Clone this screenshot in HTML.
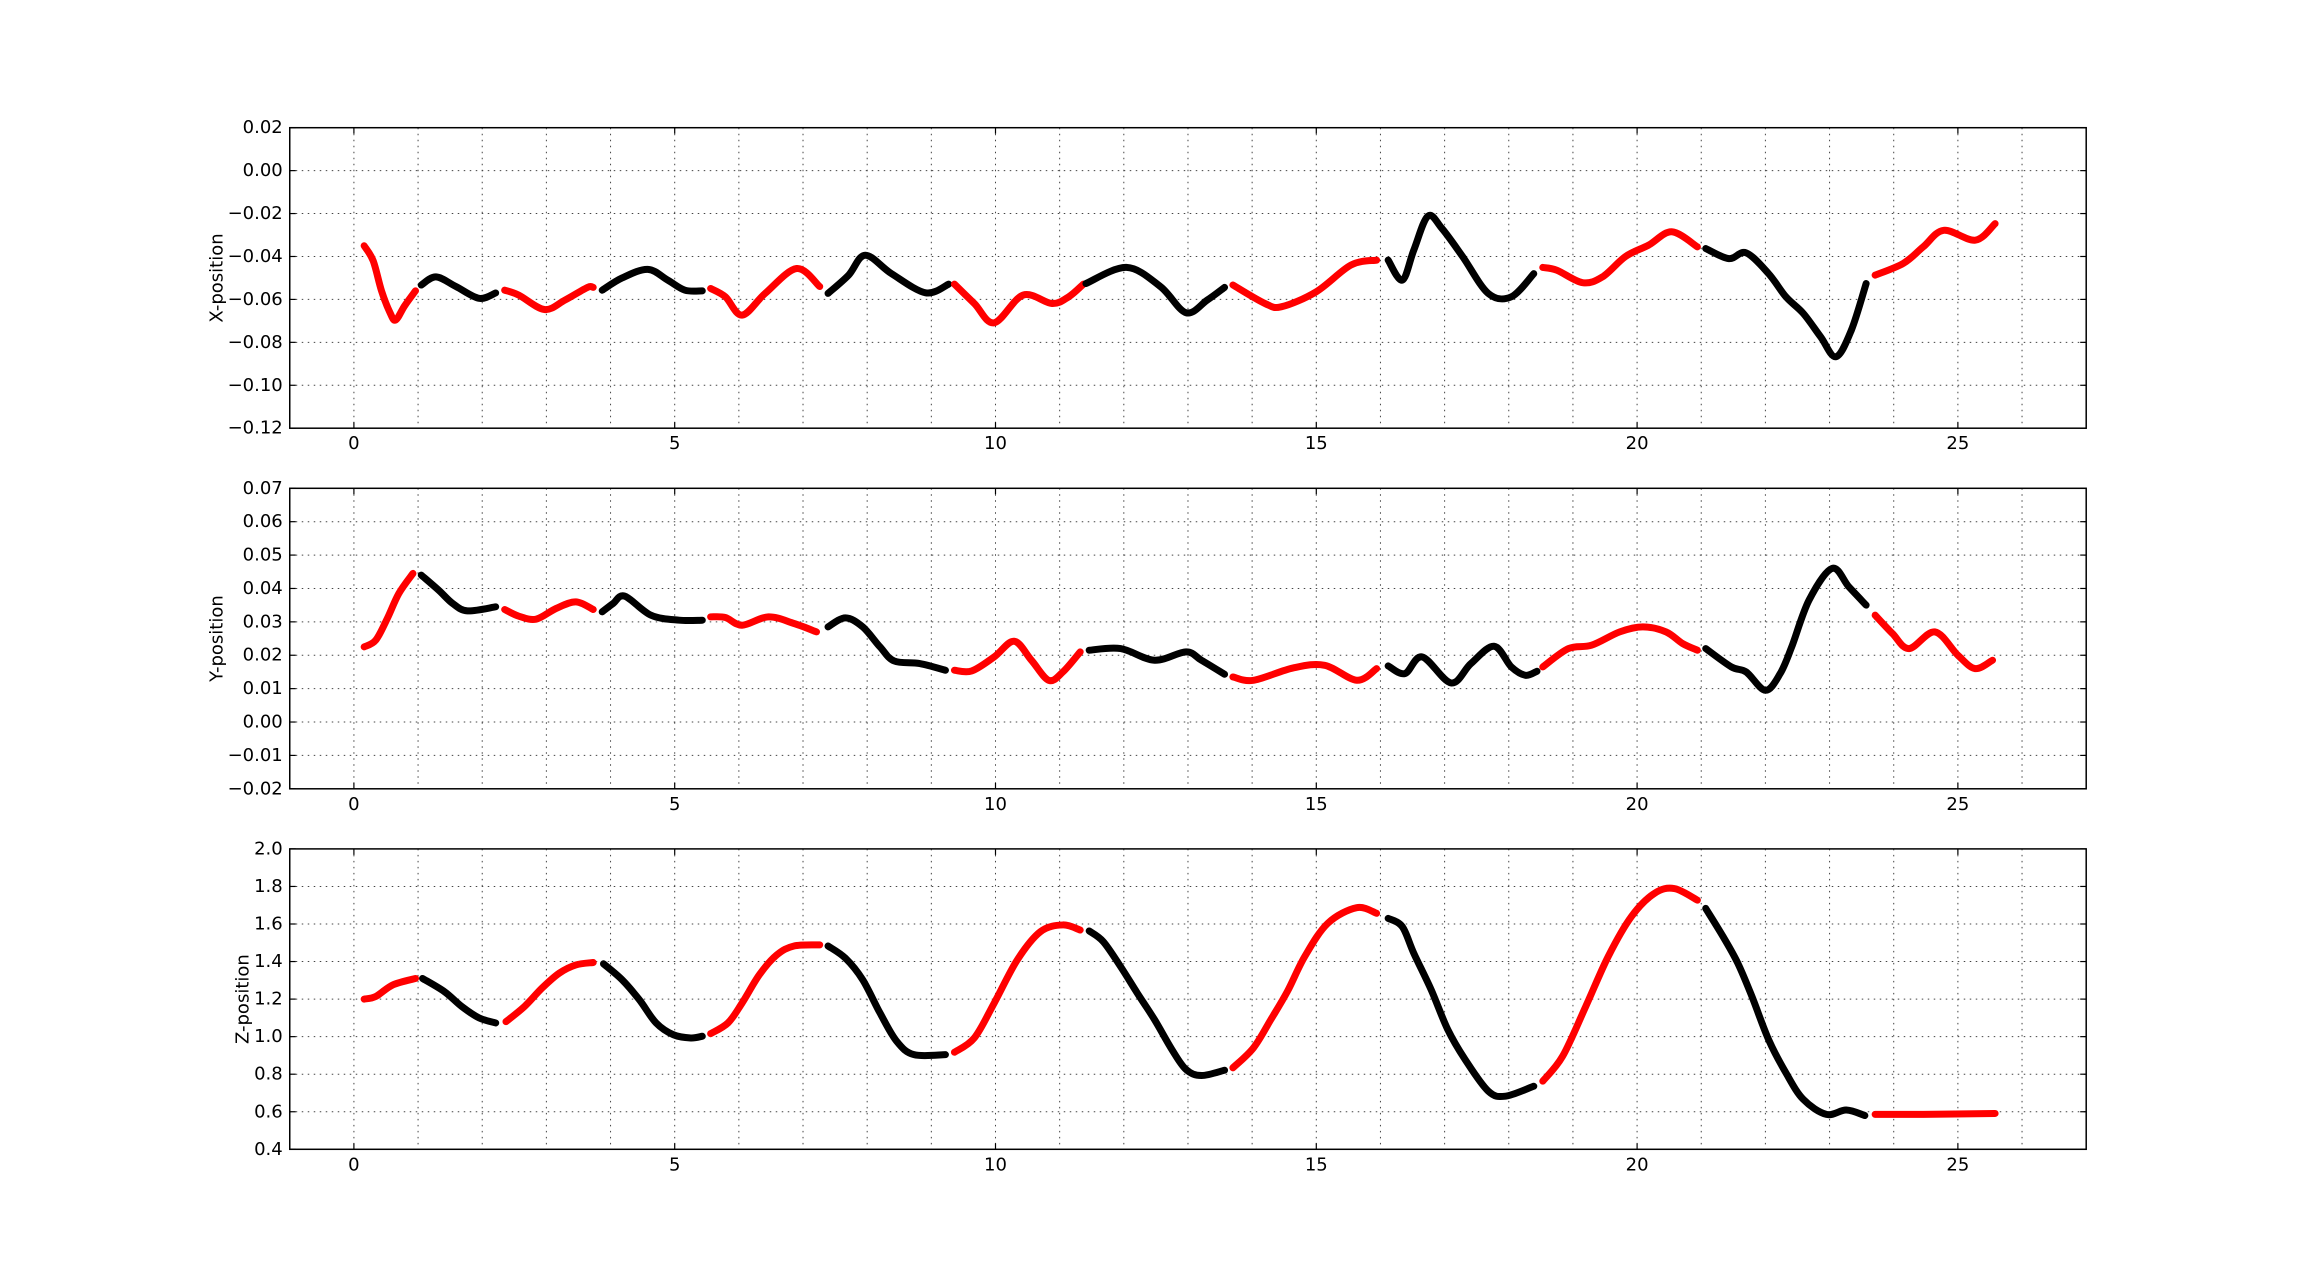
<!DOCTYPE html>
<html><head><meta charset="utf-8"><title>Position plots</title>
<style>
html,body{margin:0;padding:0;background:#fff;}
svg{display:block;font-family:"DejaVu Sans","Liberation Sans",sans-serif;}
</style></head>
<body>
<svg id="fig" width="2318" height="1277" viewBox="0 0 2318 1277" xmlns="http://www.w3.org/2000/svg">
<rect width="2318" height="1277" fill="#fff"/>
</svg>
<script>
// ---- shared x-axis ----
const xTickLabels = [0, 5, 10, 15, 20, 25];
const xGridValues = [-1,0,1,2,3,4,5,6,7,8,9,10,11,12,13,14,15,16,17,18,19,20,21,22,23,24,25,26,27];

// ---- segment times (same for all three panels) ----
const segT_X = [
 [0.16,0.3,0.43,0.56,0.65,0.79,0.96],
 [1.05,1.28,1.59,1.95,2.21],
 [2.35,2.57,2.97,3.29,3.64,3.73],
 [3.87,4.18,4.58,4.89,5.16,5.43],
 [5.56,5.79,6.05,6.41,6.9,7.26],
 [7.39,7.71,7.97,8.38,8.91,9.27],
 [9.36,9.67,9.98,10.43,10.88,11.14,11.37],
 [11.41,12.04,12.57,12.97,13.3,13.57],
 [13.7,14.2,14.46,15.0,15.54,15.94],
 [16.12,16.34,16.52,16.74,16.96,17.28,17.68,18.04,18.39],
 [18.53,18.75,19.15,19.46,19.82,20.18,20.54,20.94],
 [21.07,21.43,21.7,22.05,22.32,22.59,22.86,23.1,23.34,23.57],
 [23.71,24.15,24.46,24.78,25.27,25.58]
];
const segV_X = [
 [-0.035,-0.042,-0.056,-0.066,-0.0696,-0.063,-0.056],
 [-0.0533,-0.0495,-0.054,-0.0595,-0.057],
 [-0.0557,-0.058,-0.0647,-0.0603,-0.0544,-0.0544],
 [-0.0557,-0.050,-0.046,-0.051,-0.0557,-0.056],
 [-0.0549,-0.0588,-0.0673,-0.0572,-0.0456,-0.054],
 [-0.0572,-0.0487,-0.0394,-0.048,-0.0569,-0.0529],
 [-0.0529,-0.0619,-0.0709,-0.058,-0.0619,-0.0588,-0.0529],
 [-0.0526,-0.0451,-0.054,-0.0662,-0.0603,-0.0544],
 [-0.0533,-0.0619,-0.0634,-0.0564,-0.044,-0.0417],
 [-0.0417,-0.051,-0.037,-0.0212,-0.027,-0.040,-0.0572,-0.0588,-0.048],
 [-0.0451,-0.0464,-0.0522,-0.0495,-0.040,-0.0347,-0.0285,-0.0355],
 [-0.0363,-0.041,-0.0383,-0.048,-0.0588,-0.0665,-0.0774,-0.0867,-0.0743,-0.0526],
 [-0.0487,-0.0432,-0.0355,-0.0278,-0.0324,-0.0247]
];

const segT_Y = [
 [0.16,0.34,0.52,0.7,0.92],
 [1.05,1.32,1.54,1.77,2.21],
 [2.35,2.57,2.84,3.15,3.46,3.73],
 [3.87,4.04,4.22,4.63,5.07,5.43],
 [5.56,5.79,6.05,6.46,6.86,7.21],
 [7.39,7.66,7.93,8.2,8.42,8.82,9.22],
 [9.36,9.63,9.98,10.29,10.56,10.83,11.05,11.32],
 [11.46,11.95,12.48,12.97,13.21,13.57],
 [13.7,14.02,14.64,15.13,15.63,15.94],
 [16.12,16.38,16.65,17.1,17.41,17.77,18.04,18.26,18.44],
 [18.53,18.93,19.29,19.73,20.09,20.45,20.71,20.94],
 [21.07,21.47,21.7,22.0,22.23,22.41,22.68,23.04,23.3,23.57],
 [23.71,23.98,24.24,24.64,25.0,25.27,25.54]
];
const segV_Y = [
 [0.0225,0.0245,0.031,0.0385,0.0445],
 [0.044,0.0395,0.0355,0.0333,0.0345],
 [0.0337,0.0317,0.0308,0.034,0.036,0.0337],
 [0.033,0.0355,0.0377,0.032,0.0305,0.0305],
 [0.0315,0.0313,0.029,0.0315,0.0295,0.027],
 [0.0285,0.0312,0.0285,0.0225,0.0183,0.0175,0.0155],
 [0.0155,0.0153,0.0195,0.0242,0.0185,0.0125,0.015,0.021],
 [0.0215,0.022,0.0185,0.021,0.0185,0.0143],
 [0.0135,0.0125,0.0162,0.017,0.0125,0.016],
 [0.0168,0.0145,0.0195,0.0117,0.0175,0.0227,0.0165,0.014,0.0152],
 [0.0165,0.022,0.023,0.027,0.0285,0.027,0.0235,0.0215],
 [0.022,0.0165,0.015,0.0095,0.0145,0.0225,0.0365,0.046,0.0405,0.035],
 [0.032,0.0265,0.022,0.027,0.02,0.016,0.0185]
];

const segT_Z = [
 [0.16,0.34,0.61,0.96],
 [1.07,1.41,1.68,1.95,2.21],
 [2.37,2.66,2.93,3.2,3.46,3.73],
 [3.89,4.18,4.45,4.71,4.98,5.25,5.43],
 [5.56,5.83,6.05,6.32,6.59,6.86,7.26],
 [7.39,7.66,7.93,8.2,8.46,8.73,9.22],
 [9.36,9.67,9.98,10.34,10.7,11.05,11.32],
 [11.46,11.68,11.95,12.21,12.48,12.75,12.97,13.21,13.57],
 [13.7,14.02,14.29,14.55,14.82,15.18,15.63,15.94],
 [16.12,16.34,16.52,16.79,17.05,17.32,17.68,17.95,18.39],
 [18.53,18.84,19.2,19.55,19.91,20.27,20.58,20.94],
 [21.07,21.34,21.57,21.79,22.05,22.32,22.59,22.95,23.26,23.55],
 [23.71,24.46,25.58]
];
const segV_Z = [
 [1.2,1.214,1.276,1.31],
 [1.31,1.24,1.161,1.1,1.073],
 [1.08,1.161,1.258,1.338,1.382,1.395],
 [1.388,1.303,1.196,1.073,1.01,0.993,1.002],
 [1.016,1.073,1.179,1.33,1.435,1.483,1.489],
 [1.483,1.418,1.303,1.126,0.975,0.904,0.904],
 [0.917,0.993,1.179,1.409,1.559,1.595,1.568],
 [1.563,1.506,1.373,1.232,1.09,0.931,0.825,0.793,0.821],
 [0.834,0.94,1.09,1.241,1.427,1.604,1.687,1.657],
 [1.63,1.586,1.444,1.25,1.037,0.878,0.71,0.683,0.736],
 [0.763,0.896,1.161,1.427,1.639,1.763,1.789,1.727],
 [1.683,1.533,1.391,1.214,0.984,0.807,0.666,0.586,0.609,0.58],
 [0.586,0.586,0.591]
];

const yTicksX = [0.02,0.00,-0.02,-0.04,-0.06,-0.08,-0.10,-0.12];
const yTicksY = [0.07,0.06,0.05,0.04,0.03,0.02,0.01,0.00,-0.01,-0.02];
const yTicksZ = [2.0,1.8,1.6,1.4,1.2,1.0,0.8,0.6,0.4];

const NS = "http://www.w3.org/2000/svg";
const svg = document.getElementById('fig');
const L = 289.75, R = 2086.2;
const XMIN = -1, XMAX = 27;
function sx(t){ return L + (t - XMIN) / (XMAX - XMIN) * (R - L); }
function mk(tag, attrs, parent){
  const e = document.createElementNS(NS, tag);
  for (const k in attrs) e.setAttribute(k, attrs[k]);
  (parent || svg).appendChild(e);
  return e;
}
function fmt(v, d){ const s = Math.abs(v).toFixed(d); return (v < -1e-9 ? '\u2212' : '') + s; }

function smoothPath(pts){
  if (pts.length < 2) return '';
  let d = 'M' + pts[0][0].toFixed(2) + ',' + pts[0][1].toFixed(2);
  for (let i = 0; i < pts.length - 1; i++){
    const p0 = pts[Math.max(0,i-1)], p1 = pts[i], p2 = pts[i+1], p3 = pts[Math.min(pts.length-1,i+2)];
    const c1x = p1[0] + (p2[0]-p0[0])/6, c1y = p1[1] + (p2[1]-p0[1])/6;
    const c2x = p2[0] - (p3[0]-p1[0])/6, c2y = p2[1] - (p3[1]-p1[1])/6;
    d += ' C' + c1x.toFixed(2)+','+c1y.toFixed(2)+' '+c2x.toFixed(2)+','+c2y.toFixed(2)+' '+p2[0].toFixed(2)+','+p2[1].toFixed(2);
  }
  return d;
}

function panel(name, top, bottom, ymin, ymax, yTicks, dec, label, labelX, segT, segV){
  const g = mk('g', {});
  
  
  const sy = v => bottom - (v - ymin) / (ymax - ymin) * (bottom - top);
  // grid
  xGridValues.forEach(t => {
    const x = sx(t);
    if (x <= L + 0.5 || x >= R - 0.5) return;
    const ln = mk('line', {x1:x, x2:x, y1:top, y2:bottom, stroke:'#444', 'stroke-width':1, 'stroke-dasharray':'1.5,4.5'}, g);
    
    
  });
  yTicks.forEach(v => {
    const y = sy(v);
    if (y > top + 0.5 && y < bottom - 0.5){
      const ln = mk('line', {x1:L, x2:R, y1:y, y2:y, stroke:'#444', 'stroke-width':1, 'stroke-dasharray':'1.5,4.5'}, g);
      
      
    }
    const tk1 = mk('line', {x1:L, x2:L+6, y1:y, y2:y, stroke:'#000', 'stroke-width':1.2}, g);
    
    
    const tk2 = mk('line', {x1:R-6, x2:R, y1:y, y2:y, stroke:'#000', 'stroke-width':1.2}, g);
    
    
    const tx = mk('text', {x:L-7, y:y, 'text-anchor':'end', 'dominant-baseline':'central', 'font-size':18, fill:'#000'}, g);
    tx.textContent = fmt(v, dec);
    
    
  });
  xTickLabels.forEach(t => {
    const x = sx(t);
    const tk1 = mk('line', {x1:x, x2:x, y1:bottom, y2:bottom-6, stroke:'#000', 'stroke-width':1.2}, g);
    
    
    const tk2 = mk('line', {x1:x, x2:x, y1:top, y2:top+6, stroke:'#000', 'stroke-width':1.2}, g);
    
    
    const tx = mk('text', {x:x, y:bottom+21, 'text-anchor':'middle', 'font-size':18, fill:'#000'}, g);
    tx.textContent = String(t);
    
    
  });
  // series
  segT.forEach((ts, i) => {
    const color = (i % 2 === 0) ? '#ff0000' : '#000000';
    const pts = ts.map((t, j) => [sx(t), sy(segV[i][j])]);
    const p = mk('path', {d:smoothPath(pts), fill:'none', stroke:color, 'stroke-width':7, 'stroke-linecap':'round', 'stroke-linejoin':'round'}, g);
    
    
  });
  // frame
  const fr = mk('rect', {x:L, y:top, width:R-L, height:bottom-top, fill:'none', stroke:'#000', 'stroke-width':1.5}, g);
  
  
  const cy = (top + bottom) / 2;
  const yl = mk('text', {x:labelX, y:cy, 'text-anchor':'middle', 'dominant-baseline':'central', 'font-size':18, fill:'#000', transform:'rotate(-90 '+labelX+' '+cy+')'}, g);
  yl.textContent = label;
  
  
}

panel('x-position', 127.7, 428.2, -0.12, 0.02, yTicksX, 2, 'X-position', 217, segT_X, segV_X);
panel('y-position', 488.3, 788.8, -0.02, 0.07, yTicksY, 2, 'Y-position', 217, segT_Y, segV_Y);
panel('z-position', 848.9, 1149.3, 0.4, 2.0, yTicksZ, 1, 'Z-position', 243, segT_Z, segV_Z);
</script>
</body></html>
